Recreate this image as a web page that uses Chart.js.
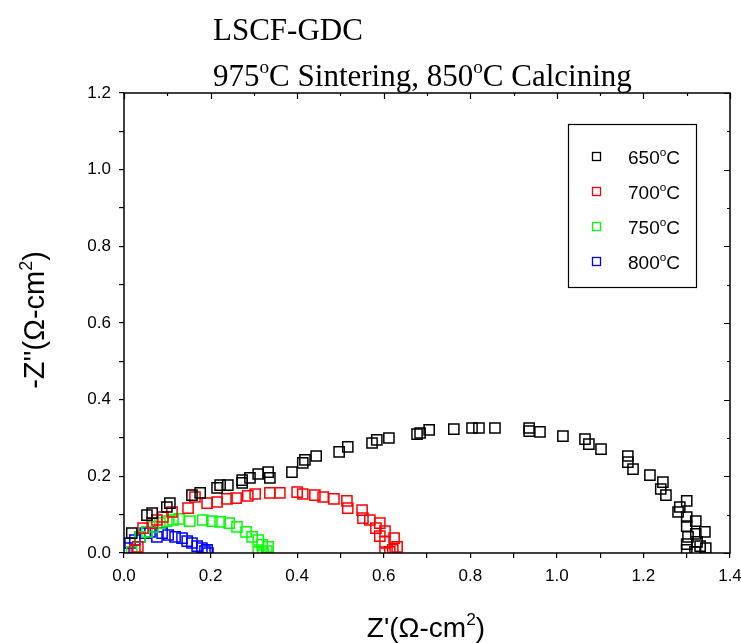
<!DOCTYPE html>
<html>
<head>
<meta charset="utf-8">
<script src="https://cdn.jsdelivr.net/npm/chart.js@4.4.1/dist/chart.umd.min.js"></script>
<style>
  html, body { margin: 0; padding: 0; background: #fff; }
  #wrap { position: relative; width: 741px; height: 643px; }
</style>
</head>
<body>
<div id="wrap"><canvas id="eis"></canvas></div>
<script>
'use strict';

// Impedance spectra, [Z', -Z''] in ohm-cm2, one list per temperature.
var t650 = [
  [0.018, 0.052], [0.053, 0.099], [0.065, 0.104], [0.099, 0.120], [0.106, 0.130],
  [0.157, 0.151], [0.176, 0.157], [0.215, 0.170], [0.222, 0.177], [0.240, 0.177],
  [0.273, 0.190], [0.273, 0.183], [0.291, 0.196], [0.310, 0.206], [0.333, 0.211],
  [0.337, 0.196], [0.388, 0.211], [0.413, 0.235], [0.418, 0.243], [0.444, 0.253],
  [0.497, 0.264], [0.517, 0.277], [0.573, 0.287], [0.584, 0.295], [0.612, 0.300],
  [0.677, 0.310], [0.684, 0.313], [0.705, 0.321], [0.762, 0.323], [0.804, 0.326],
  [0.820, 0.326], [0.857, 0.326], [0.936, 0.326], [0.936, 0.318], [0.961, 0.316],
  [1.014, 0.305], [1.065, 0.297], [1.074, 0.284], [1.102, 0.271], [1.164, 0.253],
  [1.164, 0.237], [1.176, 0.219], [1.215, 0.203], [1.245, 0.185], [1.240, 0.167],
  [1.252, 0.151], [1.300, 0.136], [1.284, 0.120], [1.280, 0.107], [1.300, 0.094],
  [1.321, 0.083], [1.300, 0.070], [1.342, 0.055], [1.321, 0.050], [1.303, 0.042],
  [1.324, 0.029], [1.331, 0.018], [1.300, 0.023], [1.300, 0.008], [1.319, 0.003],
  [1.344, 0.013]
];
var t700 = [
  [0.025, 0.008], [0.032, 0.016], [0.044, 0.065], [0.065, 0.078], [0.076, 0.086],
  [0.090, 0.094], [0.111, 0.107], [0.148, 0.117], [0.164, 0.146], [0.192, 0.130],
  [0.215, 0.133], [0.238, 0.141], [0.259, 0.143], [0.286, 0.149], [0.303, 0.154],
  [0.337, 0.157], [0.360, 0.157], [0.400, 0.159], [0.413, 0.154], [0.441, 0.151],
  [0.460, 0.146], [0.485, 0.141], [0.515, 0.136], [0.517, 0.117], [0.550, 0.112],
  [0.552, 0.091], [0.568, 0.086], [0.591, 0.078], [0.582, 0.065], [0.603, 0.057],
  [0.591, 0.044], [0.624, 0.039], [0.603, 0.029], [0.631, 0.016], [0.614, 0.003],
  [0.603, 0.000], [0.621, 0.008]
];
var t750 = [
  [0.018, 0.003], [0.037, 0.042], [0.053, 0.055], [0.067, 0.068], [0.083, 0.078],
  [0.099, 0.083], [0.113, 0.086], [0.127, 0.089], [0.152, 0.083], [0.182, 0.086],
  [0.203, 0.083], [0.222, 0.081], [0.243, 0.078], [0.261, 0.068], [0.282, 0.055],
  [0.296, 0.042], [0.310, 0.034], [0.319, 0.021], [0.333, 0.016], [0.310, 0.003],
  [0.321, 0.000], [0.330, 0.005]
];
var t800 = [
  [0.000, 0.000], [0.007, 0.013], [0.014, 0.026], [0.025, 0.034], [0.037, 0.042],
  [0.049, 0.052], [0.060, 0.055], [0.076, 0.042], [0.088, 0.052], [0.102, 0.047],
  [0.118, 0.042], [0.134, 0.039], [0.146, 0.031], [0.157, 0.026], [0.169, 0.018],
  [0.180, 0.013], [0.192, 0.008], [0.194, 0.000], [0.187, 0.005]
];

var temps = ['650', '700', '750', '800'];
var colors = ['#000000', '#ff0000', '#00ff00', '#0000ff'];
var series = [t650, t700, t750, t800];

var X_MIN = 0, X_MAX = 1.4, Y_MIN = 0, Y_MAX = 1.2, STEP = 0.1;

var SANS = 'Arial, "Liberation Sans", sans-serif';
var SERIF = '"Times New Roman", "Liberation Serif", serif';

// Label every other tick (0.0, 0.2, ...), leave the 0.1 ones bare.
function evenLabel(v) {
  return Math.round(v * 10) % 2 === 0 ? v.toFixed(1) : '';
}

// Text runs with superscripts: [{t: '650'}, {t: 'o', sup: true}, {t: 'C'}].
function richWidth(ctx, parts, size, family) {
  var w = 0;
  parts.forEach(function(p) {
    ctx.font = (p.sup ? size * 0.62 : size) + 'px ' + family;
    w += ctx.measureText(p.t).width;
  });
  return w;
}
function drawRich(ctx, parts, x, y, size, family) {
  ctx.textAlign = 'left';
  ctx.textBaseline = 'alphabetic';
  parts.forEach(function(p) {
    ctx.font = (p.sup ? size * 0.62 : size) + 'px ' + family;
    ctx.fillText(p.t, x, p.sup ? y - size * 0.42 : y);
    x += ctx.measureText(p.t).width;
  });
}

var framePlugin = {
  id: 'frame',
  beforeDraw: function(chart) {
    var ctx = chart.ctx;
    ctx.save();
    ctx.fillStyle = '#fff';
    ctx.fillRect(0, 0, chart.width, chart.height);
    ctx.restore();
  },
  afterDraw: function(chart) {
    var ctx = chart.ctx;
    var a = chart.chartArea;
    var xs = chart.scales.x, ys = chart.scales.y;
    ctx.save();
    ctx.strokeStyle = '#000';
    ctx.fillStyle = '#000';

    // plot frame
    ctx.lineWidth = 1.5;
    ctx.strokeRect(a.left, a.top, a.right - a.left, a.bottom - a.top);

    // inward ticks on the top and right edges
    ctx.lineWidth = 1.2;
    ctx.beginPath();
    var i, v, p, len;
    for (i = 0; i <= Math.round((X_MAX - X_MIN) / STEP); i++) {
      v = X_MIN + i * STEP;
      p = Math.round(xs.getPixelForValue(v)) + 0.5;
      len = i % 2 === 0 ? 6 : 3;
      ctx.moveTo(p, a.top);
      ctx.lineTo(p, a.top + len);
    }
    for (i = 0; i <= Math.round((Y_MAX - Y_MIN) / STEP); i++) {
      v = Y_MIN + i * STEP;
      p = Math.round(ys.getPixelForValue(v)) + 0.5;
      len = i % 2 === 0 ? 6 : 3;
      ctx.moveTo(a.right, p);
      ctx.lineTo(a.right - len, p);
    }
    ctx.stroke();

    // titles
    drawRich(ctx, [{t: 'LSCF-GDC'}], 213, 40, 31, SERIF);
    drawRich(ctx, [
      {t: '975'}, {t: 'o', sup: true}, {t: 'C Sintering, 850'},
      {t: 'o', sup: true}, {t: 'C Calcining'}
    ], 213, 86, 31, SERIF);

    // axis titles
    var xt = [{t: "Z'(\u03A9-cm"}, {t: '2', sup: true}, {t: ')'}];
    var xw = richWidth(ctx, xt, 28, SANS);
    drawRich(ctx, xt, 426 - xw / 2, 637, 28, SANS);

    var yt = [{t: "-Z''(\u03A9-cm"}, {t: '2', sup: true}, {t: ')'}];
    var yw = richWidth(ctx, yt, 29, SANS);
    ctx.save();
    ctx.translate(44, 320);
    ctx.rotate(-Math.PI / 2);
    drawRich(ctx, yt, -yw / 2, 0, 29, SANS);
    ctx.restore();

    // legend
    ctx.lineWidth = 1.2;
    ctx.strokeStyle = '#000';
    ctx.strokeRect(568.5, 124.5, 128, 163);
    temps.forEach(function(t, k) {
      var cy = 157 + 35 * k;
      ctx.strokeStyle = colors[k];
      ctx.lineWidth = 1.3;
      ctx.strokeRect(592.5, cy - 4.5, 8, 8);
      ctx.fillStyle = '#000';
      drawRich(ctx, [{t: t}, {t: 'o', sup: true}, {t: 'C'}], 628, cy + 7, 19, SANS);
    });

    ctx.restore();
  }
};

var datasets = series.map(function(pts, k) {
  return {
    label: temps[k] + '\u00B0C',
    data: pts.map(function(p) { return {x: p[0], y: p[1]}; }),
    showLine: false,
    pointStyle: 'rect',
    pointRadius: 7.2,
    pointHoverRadius: 7.2,
    pointBorderWidth: 1.5,
    borderColor: colors[k],
    backgroundColor: 'rgba(0,0,0,0)'
  };
});

var tickFont = {family: SANS, size: 17};

new Chart(document.getElementById('eis'), {
  type: 'scatter',
  data: {datasets: datasets},
  options: {
    responsive: true,
    maintainAspectRatio: false,
    animation: false,
    events: [],
    layout: {padding: {left: 0, top: 93, right: 11, bottom: 0}},
    plugins: {
      legend: {display: false},
      tooltip: {enabled: false},
      title: {display: false}
    },
    scales: {
      x: {
        type: 'linear',
        min: X_MIN,
        max: X_MAX,
        afterFit: function(s) {
          s.height = 90;
          s.paddingLeft = 0;
          s.paddingRight = 0;
        },
        border: {display: false},
        grid: {drawOnChartArea: false, drawTicks: true, tickLength: 5, color: '#000', lineWidth: 1.2},
        ticks: {stepSize: STEP, autoSkip: false, maxRotation: 0, padding: 8,
                color: '#000', font: tickFont, callback: evenLabel}
      },
      y: {
        type: 'linear',
        min: Y_MIN,
        max: Y_MAX,
        afterFit: function(s) {
          s.width = 124;
          s.paddingTop = 0;
          s.paddingBottom = 0;
        },
        border: {display: false},
        grid: {drawOnChartArea: false, drawTicks: true, tickLength: 5, color: '#000', lineWidth: 1.2},
        ticks: {stepSize: STEP, autoSkip: false, padding: 8,
                color: '#000', font: tickFont, callback: evenLabel}
      }
    }
  },
  plugins: [framePlugin]
});
</script>
</body>
</html>
